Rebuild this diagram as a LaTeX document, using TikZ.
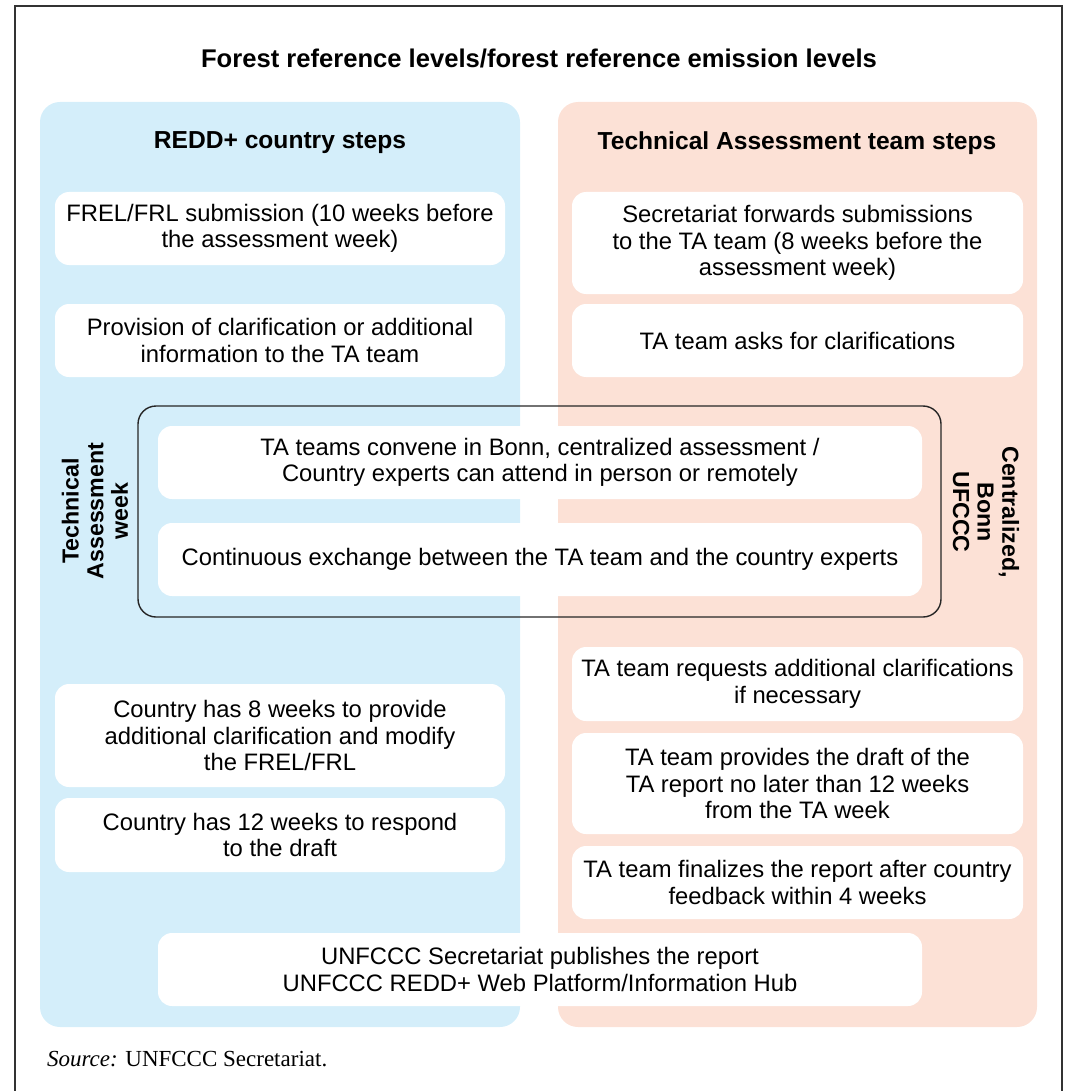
\documentclass[tikz,border=0pt]{standalone}
\usepackage{fontspec}
\setmainfont{Liberation Sans}
\newfontfamily\sourcefont{Liberation Serif}
\usetikzlibrary{positioning}

\definecolor{countryblue}{HTML}{D4EEFA}
\definecolor{teampeach}{HTML}{FCE1D6}

\tikzset{
    stepbox/.style={fill=white, rounded corners=7pt, align=center,
        font=\fontsize{11.9}{13.2}\selectfont},
    leftbox/.style={stepbox, minimum width=225pt},
    rightbox/.style={stepbox, minimum width=225.5pt},
    widebox/.style={stepbox, minimum width=382pt},
    panel/.style={rounded corners=10pt},
    heading/.style={font=\fontsize{12.3}{14}\selectfont\bfseries},
    sidelabel/.style={font=\fontsize{11.6}{12.3}\selectfont\bfseries, align=center}
}

\begin{document}
\begin{tikzpicture}[x=0.5pt, y=-0.5pt]
    \useasboundingbox (0,0) rectangle (1066,1091);
    % outer frame
    \draw[line width=0.8pt, black!80] (15,1100) -- (15,6) -- (1062,6) -- (1062,1100);
    \node[heading, font=\fontsize{12.8}{14}\selectfont\bfseries] (title) at (539,58)
        {Forest reference levels/forest reference emission levels};

    % two columns
    \fill[countryblue, panel] (40,102) rectangle (520,1027);
    \fill[teampeach, panel] (558,102) rectangle (1037,1027);
    \node[heading] (country) at (280,143) {REDD+ country steps};
    \node[heading] (team) at (797,143) {Technical Assessment team steps};

    % country steps
    \node[leftbox, minimum height=36.5pt] (frel) at (280,228.5)
        {FREL/FRL submission (10 weeks before\\the assessment week)};
    \node[leftbox, minimum height=36.5pt] (provide) at (280,340.5)
        {Provision of clarification or additional\\information to the TA team};
    \node[leftbox, minimum height=51.5pt] (modify) at (280,735.5)
        {Country has 8 weeks to provide\\additional clarification and modify\\the FREL/FRL};
    \node[leftbox, minimum height=37pt] (respond) at (280,835)
        {Country has 12 weeks to respond\\to the draft};

    % team steps
    \node[rightbox, minimum height=51pt] (forward) at (797.5,243)
        {Secretariat forwards submissions\\to the TA team (8 weeks before the\\assessment week)};
    \node[rightbox, minimum height=36.5pt] (asks) at (797.5,340.5)
        {TA team asks for clarifications};
    \node[rightbox, minimum height=37pt] (requests) at (797.5,684)
        {TA team requests additional clarifications\\if necessary};
    \node[rightbox, minimum height=50.5pt] (draft) at (797.5,783.5)
        {TA team provides the draft of the\\TA report no later than 12 weeks\\from the TA week};
    \node[rightbox, minimum height=36.5pt] (finalize) at (797.5,882.5)
        {TA team finalizes the report after country\\feedback within 4 weeks};

    % assessment week
    \draw[rounded corners=9pt, line width=0.7pt, black!85] (138,406) rectangle (941,617);
    \node[widebox, minimum height=36.5pt] (convene) at (540,462.5)
        {TA teams convene in Bonn, centralized assessment /\\Country experts can attend in person or remotely};
    \node[widebox, minimum height=36.5pt] (exchange) at (540,559.5)
        {Continuous exchange between the TA team and the country experts};
    \node[sidelabel, rotate=90] (taweek) at (95,511) {Technical\\Assessment\\week};
    \node[sidelabel, rotate=-90] (bonn) at (986,512) {Centralized,\\Bonn\\UFCCC};

    % publication
    \node[widebox, minimum height=36.5pt] (publish) at (540,969.5)
        {UNFCCC Secretariat publishes the report\\UNFCCC REDD+ Web Platform/Information Hub};

    \node[anchor=west, font=\sourcefont\fontsize{11.5}{13}\selectfont] (source) at (40,1059)
        {\textit{Source:} UNFCCC Secretariat.};
\end{tikzpicture}
\end{document}
